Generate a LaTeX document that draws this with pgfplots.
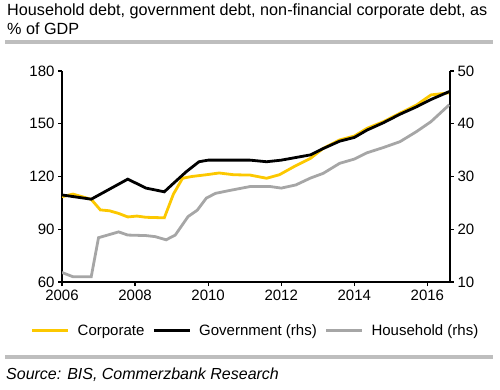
\documentclass[border=0pt]{standalone}
\usepackage{fontspec}
\setmainfont{Liberation Sans}
\usepackage{pgfplots}
\pgfplotsset{compat=1.18}
\definecolor{cbyellow}{RGB}{252,200,0}
\definecolor{cbgray}{RGB}{166,166,166}
\definecolor{rulegray}{RGB}{190,190,190}
\begin{document}
\begin{tikzpicture}[x=1pt,y=1pt]
\path[use as bounding box] (0,0) rectangle (500,389);
\node[anchor=north west, align=left, font=\fontsize{16.2}{19}\selectfont, inner sep=0] at (7,385) {Household debt, government debt, non-financial corporate debt, as\\\% of GDP};
\fill[rulegray] (5,345) rectangle (493,349);
\fill[rulegray] (5,30) rectangle (493,34);
\node[anchor=west, font=\fontsize{16}{18}\selectfont\itshape, inner sep=0] at (6,14) {Source: BIS, Commerzbank Research};
\pgfplotsset{
  every axis/.append style={
    at={(62pt,107pt)}, anchor=south west,
    scale only axis, width=388pt, height=211pt,
    xmin=2006, xmax=2016.62,
    tick align=outside, major tick length=4pt,
    axis line style={line width=1.4pt},
    every tick/.style={black, line width=1.2pt},
    tick label style={font=\fontsize{15}{17}\selectfont},
    /pgf/number format/assume math mode=true,
    /pgf/number format/1000 sep={},
  }
}
\begin{axis}[
  axis x line*=bottom, axis y line*=left,
  ymin=60, ymax=180, ytick={60,90,120,150,180},
  xtick={2006,2008,2010,2012,2014,2016},
  legend columns=3,
  legend style={at={(0.499,-0.231)}, anchor=center, draw=none, fill=none,
    font=\fontsize{15}{17}\selectfont, column sep=6pt, inner sep=0pt},
  legend image code/.code={\draw[#1] (0pt,0pt) -- (36pt,0pt);},
]
\addplot[cbyellow, line width=2.8pt] coordinates {
(2006.0,108.5) (2006.3,110) (2006.8,107) (2007.05,101) (2007.3,100.5) (2007.55,99)
(2007.8,97) (2008.05,97.5) (2008.3,96.8) (2008.8,96.5) (2009.05,110) (2009.3,119)
(2009.55,120) (2009.95,121) (2010.3,122) (2010.7,121) (2011.15,120.8) (2011.6,119)
(2011.95,121) (2012.35,125.6) (2012.8,130.3) (2013.15,136) (2013.6,140.8) (2014.0,143)
(2014.35,147.4) (2014.8,151.2) (2015.25,156) (2015.7,160.6) (2016.1,166.4) (2016.35,167) (2016.6,167.6)};
\addlegendentry{Corporate}
\addlegendimage{black, line width=2.8pt}
\addlegendentry{Government (rhs)}
\addlegendimage{cbgray, line width=2.8pt}
\addlegendentry{Household (rhs)}
\end{axis}
\begin{axis}[
  axis x line=none, axis y line*=right,
  ymin=10, ymax=50, ytick={10,20,30,40,50},
]
\addplot[cbgray, line width=2.8pt] coordinates {
(2006.0,11.8) (2006.3,11.0) (2006.8,11.0) (2007.0,18.4) (2007.55,19.5) (2007.8,18.9)
(2008.3,18.8) (2008.55,18.6) (2008.85,18.0) (2009.1,18.9) (2009.45,22.4) (2009.7,23.6)
(2009.95,25.9) (2010.2,26.8) (2010.55,27.3) (2011.0,27.9) (2011.15,28.1) (2011.7,28.1)
(2012.0,27.8) (2012.4,28.4) (2012.8,29.7) (2013.15,30.6) (2013.6,32.5) (2014.0,33.3)
(2014.35,34.5) (2014.8,35.5) (2015.25,36.6) (2015.7,38.5) (2016.1,40.4) (2016.6,43.6)};
\addplot[black, line width=2.8pt] coordinates {
(2006.0,26.5) (2006.8,25.7) (2007.3,27.6) (2007.8,29.5) (2008.3,27.8) (2008.8,27.1)
(2009.05,28.7) (2009.4,30.9) (2009.75,32.8) (2010.0,33.1) (2010.7,33.1) (2011.15,33.1)
(2011.6,32.8) (2012.0,33.1) (2012.4,33.6) (2012.8,34.1) (2013.15,35.3) (2013.6,36.7) (2014.0,37.4)
(2014.35,38.8) (2014.8,40.2) (2015.25,41.8) (2015.7,43.2) (2016.1,44.6) (2016.6,46.1)};
\end{axis}
\end{tikzpicture}
\end{document}
